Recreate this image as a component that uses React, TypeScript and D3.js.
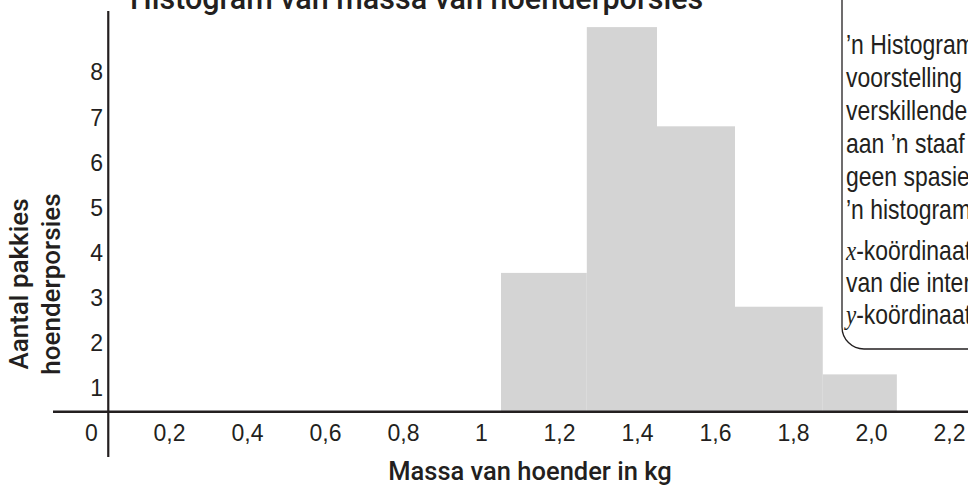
import React from "react";
import * as d3 from "d3";

const W = 968;
const H = 485;

// Data
const binEdges = [1.05, 1.27, 1.45, 1.65, 1.875, 2.065];
const counts = [3.55, 9.0, 6.8, 2.8, 1.3];
const xTickValues = [0, 0.2, 0.4, 0.6, 0.8, 1, 1.2, 1.4, 1.6, 1.8, 2.0, 2.2];
const xTickLabels = ["0", "0,2", "0,4", "0,6", "0,8", "1", "1,2", "1,4", "1,6", "1,8", "2,0", "2,2"];
const yTickValues = [1, 2, 3, 4, 5, 6, 7, 8];
const title = "Histogram van massa van hoenderporsies";
const xTitle = "Massa van hoender in kg";
const yTitleLines = ["Aantal pakkies", "hoenderporsies"];
const noteLines: { pre?: string; text: string }[] = [
  { text: "\u2019n Histogram" },
  { text: "voorstelling" },
  { text: "verskillende" },
  { text: "aan \u2019n staaf" },
  { text: "geen spasie" },
  { text: "\u2019n histogram" },
  { pre: "x", text: "-ko\u00f6rdinaat" },
  { text: "van die interval" },
  { pre: "y", text: "-ko\u00f6rdinaat" },
];

const xAxisAt = 0.47; // y-value where the horizontal axis line sits
const yAxisAt = 0.043; // x-value where the vertical axis line sits

export default function App() {
  const x = d3.scaleLinear().domain([0, 2.2]).range([91.5, 949.5]);
  const y = d3.scaleLinear().domain([0, 8]).range([433, 72.2]);

  const bins = counts.map((c, i) => ({ x0: binEdges[i], x1: binEdges[i + 1], c }));
  const baseY = y(xAxisAt);
  const axisX = x(yAxisAt);

  const r = 22;
  const boxLeft = 842;
  const boxBottom = 349;
  const boxPath = d3.path();
  boxPath.moveTo(boxLeft, -10);
  boxPath.lineTo(boxLeft, boxBottom - r);
  boxPath.arcTo(boxLeft, boxBottom, boxLeft + r, boxBottom, r);
  boxPath.lineTo(W + 20, boxBottom);

  const noteFont = "'Liberation Sans', Arial, sans-serif";
  const noteY = [44, 77, 110, 143, 176, 209, 250, 282, 314];
  const noteX = 846;
  const squeeze = 0.82;

  return (
    <svg
      width={W}
      height={H}
      style={{ position: "absolute", left: 0, top: 0, background: "#fff" }}
      xmlns="http://www.w3.org/2000/svg"
    >
      {/* bars */}
      {bins.map((b, i) => (
        <rect
          key={i}
          x={x(b.x0)}
          y={y(b.c)}
          width={x(b.x1) - x(b.x0)}
          height={baseY - y(b.c)}
          fill="#d4d4d4"
        />
      ))}

      {/* axes */}
      <line x1={53} x2={W} y1={baseY} y2={baseY} stroke="#231f20" strokeWidth={2.6} />
      <line x1={axisX} x2={axisX} y1={11} y2={457} stroke="#231f20" strokeWidth={2.2} />

      {/* y tick labels */}
      {yTickValues.map((v) => (
        <text
          key={v}
          x={103}
          y={y(v)}
          dy="0.36em"
          textAnchor="end"
          fontFamily="'Liberation Sans', Arial, sans-serif"
          fontSize={23}
          fill="#231f20"
        >
          {v}
        </text>
      ))}

      {/* x tick labels */}
      {xTickValues.map((v, i) => (
        <text
          key={v}
          x={x(v)}
          y={y(0)}
          dy="0.36em"
          textAnchor="middle"
          fontFamily="'Liberation Sans', Arial, sans-serif"
          fontSize={23}
          fill="#231f20"
        >
          {xTickLabels[i]}
        </text>
      ))}

      {/* titles */}
      <text x={130} y={9} fontFamily="Roboto, sans-serif" fontWeight={500} fontSize={30.5} fill="#231f20">
        {title}
      </text>
      <text
        x={530}
        y={480}
        textAnchor="middle"
        fontFamily="Roboto, sans-serif"
        fontWeight={500}
        fontSize={25.5}
        fill="#231f20"
      >
        {xTitle}
      </text>
      {yTitleLines.map((t, i) => (
        <text
          key={t}
          transform={`translate(${i === 0 ? 28 : 60}, 284) rotate(-90)`}
          textAnchor="middle"
          fontFamily="Roboto, sans-serif"
          fontWeight={500}
          fontSize={26}
          fill="#231f20"
        >
          {t}
        </text>
      ))}

      {/* callout box */}
      <path d={boxPath.toString()} fill="none" stroke="#231f20" strokeWidth={1.3} />
      <g transform={`translate(${noteX},0) scale(${squeeze},1)`}>
        {noteLines.map((l, i) => (
          <text
            key={i}
            x={0}
            y={noteY[i]}
            dy="0.36em"
            fontFamily={noteFont}
            fontSize={28}
            fill="#231f20"
          >
            {l.pre ? (
              <tspan fontFamily="'Liberation Serif', 'Times New Roman', serif" fontStyle="italic">
                {l.pre}
              </tspan>
            ) : null}
            {l.text}
          </text>
        ))}
      </g>
    </svg>
  );
}
